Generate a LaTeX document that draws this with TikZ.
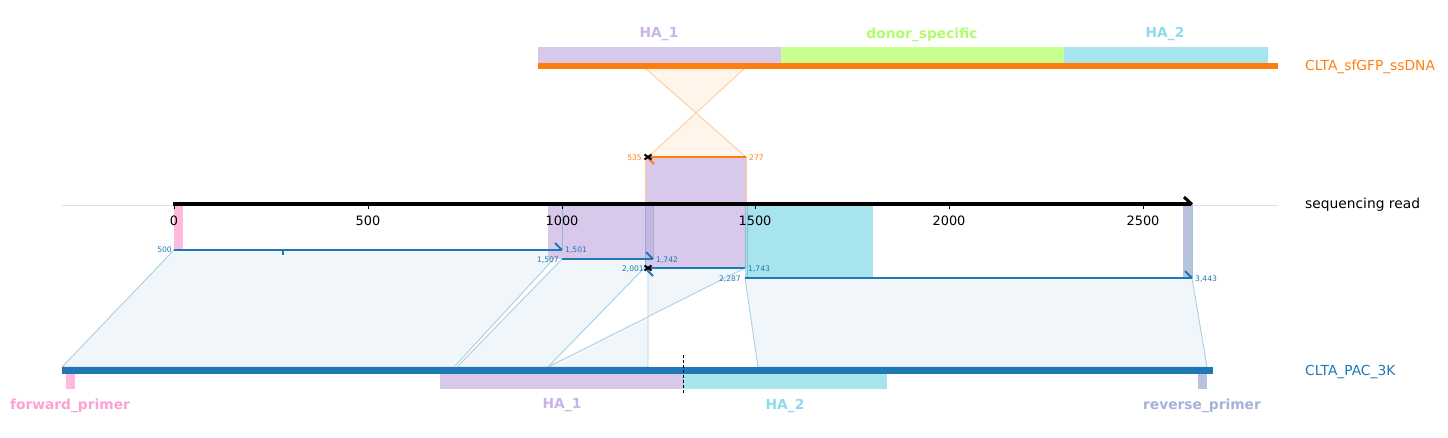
\documentclass[tikz,border=0pt]{standalone}
\usepackage{fontspec}
\setmainfont{DejaVu Sans}
\definecolor{orng}{HTML}{FF7F0E}
\definecolor{blu}{HTML}{1F77B4}
\definecolor{lav}{HTML}{D8C8EA}
\definecolor{lavdark}{HTML}{C9B5E2}
\definecolor{grn}{HTML}{C8FF90}
\definecolor{cyn}{HTML}{A8E4EE}
\definecolor{pnk}{HTML}{FFB8DE}
\definecolor{gbl}{HTML}{B6C2DE}
\definecolor{lavtxt}{HTML}{C8B4E6}
\definecolor{grntxt}{HTML}{B4FA6E}
\definecolor{cyntxt}{HTML}{8CDCEA}
\definecolor{pnktxt}{HTML}{FF9FD6}
\definecolor{gbltxt}{HTML}{A4B2D8}
\definecolor{polyfill}{HTML}{F1F6FA}
\definecolor{polyline}{HTML}{A9CFE6}
\definecolor{hgfill}{HTML}{FFF5EB}
\definecolor{hgline}{HTML}{FFCC99}
\newcommand\bigfnt{\fontsize{13.8}{16}\selectfont}
\newcommand\tickfnt{\fontsize{12.9}{15}\selectfont}
\newcommand\smallfnt{\fontsize{7.6}{9}\selectfont}
\begin{document}
\begin{tikzpicture}[x=1pt,y=-1pt,
  poly/.style={fill=polyfill,draw=polyline,line width=0.9pt},
  hglass/.style={fill=hgfill,draw=hgline,line width=0.9pt},
  hit/.style={draw=blu,line width=2pt},
  hook/.style={draw=blu,line width=1.8pt},
  featlbl/.style={font=\bigfnt\bfseries,inner sep=0pt},
  namelbl/.style={font=\bigfnt,anchor=west,inner sep=0pt},
  ticklbl/.style={font=\tickfnt,inner sep=0pt},
  poslbl/.style={font=\smallfnt,inner sep=0pt,text=blu},
  vedge/.style={draw=blu!60,line width=0.8pt,opacity=0.7},
  xmark/.style={draw=black,line width=2pt}
]
\useasboundingbox (0,0) rectangle (1448,437);

% ---- alignment polygons ----
\filldraw[poly] (174,250) -- (562,250) -- (454,367) -- (62,367) -- cycle;
\filldraw[poly] (562,259) -- (653,259) -- (548,367) -- (457,367) -- cycle;
\filldraw[poly] (648,268) -- (745,268) -- (548,367) -- (648,367) -- cycle;
\filldraw[poly] (745,278) -- (1192,278) -- (1207,367) -- (758,367) -- cycle;

% ---- hourglass from ssDNA ----
\filldraw[hglass] (645,68) -- (745,68) -- (648,157) -- (746,157) -- cycle;

% ---- light grey baseline ----
\draw[black!12,line width=0.8pt] (62,205) -- (1278,205);

% ---- projected features on the read ----
\fill[lav] (645,157) rectangle (746,204);
\draw[hgline,line width=0.8pt] (645,157) -- (645,204) (746,157) -- (746,204);
\fill[pnk] (174,205) rectangle (183,250);
\fill[lav] (548,205) rectangle (653,259);
\fill[lav] (645,205) rectangle (745,268);
\fill[lavdark] (645,205) rectangle (653,259);
\fill[cyn] (745,205) rectangle (873,278);
\fill[gbl] (1183,205) rectangle (1192,278);
\draw[vedge] (562,205) -- (562,250);
\draw[vedge] (645,205) -- (645,268);
\draw[vedge] (653,205) -- (653,259);
\draw[vedge] (745,205) -- (745,268);
\draw[vedge] (747,205) -- (747,278);
\draw[vedge] (1192,205) -- (1192,278);

% ---- sequencing read axis ----
\draw[black,line width=3.3pt] (173,204) -- (1191,204);
\draw[black,line width=3pt] (1184,197) -- (1192,204.5);
\foreach \xx/\lab [count=\i] in {174/0,368/500,562/1000,755/1500,949/2000,1143/2500}{
  \draw[black,line width=0.8pt] (\xx,204) -- (\xx,209);
  \node[ticklbl] (tick\i) at (\xx,221) {\lab};
}
\node[namelbl] (readname) at (1305,205) {sequencing read};

% ---- alignment hit lines ----
\draw[hit] (174,250) -- (562,250);
\draw[hook] (555,243) -- (562,250);
\draw[blu,line width=2pt] (283,250) -- (283,255);
\draw[hit] (562,259) -- (653,259);
\draw[hook] (646,252) -- (653,259);
\draw[hit] (648,268) -- (745,268);
\draw[hook] (647,270) -- (653,276);
\draw[hit] (745,278) -- (1192,278);
\draw[hook] (1185,271) -- (1192,278);
\draw[xmark] (644.5,265.5) -- (651.5,270.5) (644.5,270.5) -- (651.5,265.5);

\node[poslbl,anchor=east] (p500) at (172,250) {500};
\node[poslbl,anchor=west] (p1501) at (565,250) {1,501};
\node[poslbl,anchor=east] (p1507) at (559,260) {1,507};
\node[poslbl,anchor=west] (p1742) at (656,260) {1,742};
\node[poslbl,anchor=east] (p2001) at (644,269) {2,001};
\node[poslbl,anchor=west] (p1743) at (748,269) {1,743};
\node[poslbl,anchor=east] (p2287) at (741,279) {2,287};
\node[poslbl,anchor=west] (p3443) at (1195,279) {3,443};

% ---- ssDNA hit on read ----
\draw[orng,line width=2pt] (648,157) -- (746,157);
\draw[orng,line width=1.8pt] (648,158) -- (654,164);
\draw[xmark] (644.5,154.5) -- (651.5,159.5) (644.5,159.5) -- (651.5,154.5);
\node[poslbl,anchor=east,text=orng] (o535) at (642,158) {535};
\node[poslbl,anchor=west,text=orng] (o277) at (749,158) {277};

% ---- CLTA_sfGFP_ssDNA ----
\fill[lav] (538,47) rectangle (781,62.7);
\fill[grn] (781,47) rectangle (1064,62.7);
\fill[cyn] (1064,47) rectangle (1268,62.7);
\fill[orng] (538,62.7) rectangle (1278,68.7);
\node[featlbl,text=lavtxt] (tHA1) at (659,34.5) {HA\_1};
\node[featlbl,text=grntxt] (tdonor) at (922,34.5) {donor\_specific};
\node[featlbl,text=cyntxt] (tHA2) at (1165,34.5) {HA\_2};
\node[namelbl,text=orng] (ssname) at (1305,67) {CLTA\_sfGFP\_ssDNA};

% ---- CLTA_PAC_3K ----
\fill[pnk] (66,374) rectangle (75,389);
\fill[lav] (440,374) rectangle (683,389);
\fill[cyn] (683,374) rectangle (887,389);
\fill[gbl] (1198,374) rectangle (1207,389);
\fill[blu] (62,367.3) rectangle (1213,374);
\draw[black,line width=1pt,dash pattern=on 3pt off 2pt] (683,355) -- (683,394);
\node[featlbl,text=pnktxt] (bfwd) at (70,405.5) {forward\_primer};
\node[featlbl,text=lavtxt] (bHA1) at (562,405.5) {HA\_1};
\node[featlbl,text=cyntxt] (bHA2) at (785,405.5) {HA\_2};
\node[featlbl,text=gbltxt] (brev) at (1202,405.5) {reverse\_primer};
\node[namelbl,text=blu] (refname) at (1305,372) {CLTA\_PAC\_3K};
\end{tikzpicture}
\end{document}
